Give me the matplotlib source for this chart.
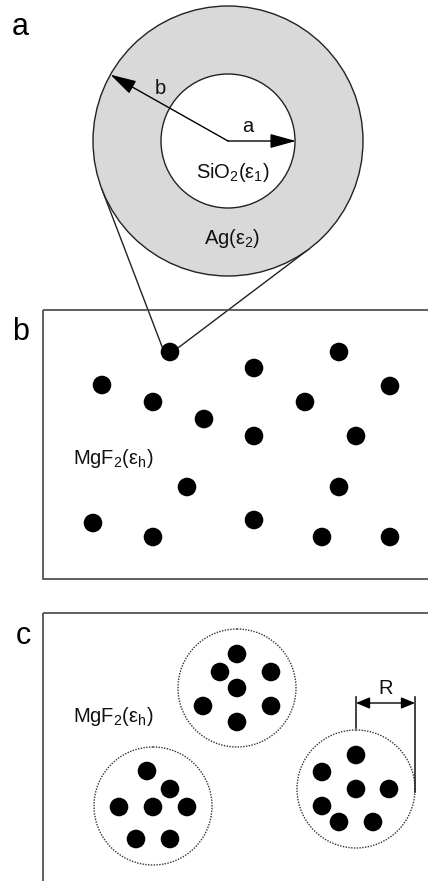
import numpy as np
import matplotlib.pyplot as plt
from matplotlib.patches import Circle, Rectangle

plt.rcParams['font.family'] = ['Liberation Sans', 'DejaVu Sans']
plt.rcParams['mathtext.fontset'] = 'custom'
plt.rcParams['mathtext.rm'] = 'Liberation Sans'
plt.rcParams['mathtext.it'] = 'Liberation Sans:italic'

# core-shell particle (pixel units)
shell_center = (228, 141)
core_radius = 67
shell_radius = 135

# random film: particle centres
film_x = [170, 339, 254, 102, 390, 153, 305, 204, 254, 356, 187, 339, 93, 254, 153, 322, 390]
film_y = [352, 352, 368, 385, 386, 402, 402, 419, 436, 436, 487, 487, 523, 520, 537, 537, 537]
dot_radius = 9.3

# clustered film: cluster outlines and member particles
cluster_x = [237, 153, 356]
cluster_y = [688, 806, 789]
cluster_radius = 59
member_x = [
    [237, 220, 271, 237, 203, 271, 237],
    [147, 170, 119, 153, 187, 136, 170],
    [356, 322, 356, 389, 322, 339, 373],
]
member_y = [
    [654, 672, 672, 688, 706, 706, 722],
    [771, 789, 807, 807, 807, 839, 839],
    [755, 772, 789, 789, 806, 822, 822],
]

fig = plt.figure(figsize=(4.28, 8.81), dpi=100)
ax = fig.add_axes([0, 0, 1, 1])
ax.set_xlim(0, 428)
ax.set_ylim(881, 0)
ax.set_aspect('equal')
ax.axis('off')

# --- panel a: shell and core
cx, cy = shell_center
ax.add_patch(Circle(shell_center, shell_radius, facecolor='#d9d9d9', edgecolor='#222222', lw=1.0, zorder=2))
ax.add_patch(Circle(shell_center, core_radius, facecolor='white', edgecolor='#222222', lw=1.0, zorder=3))

# tangent lines from the highlighted particle up to the shell
px, py = film_x[0] - 4, film_y[0] + 5
d = np.hypot(cx - px, cy - py)
base = np.arctan2(cy - py, cx - px)
alpha = np.arcsin(shell_radius / d)
tlen = np.sqrt(d ** 2 - shell_radius ** 2)
for sgn in (-1, 1):
    ang = base + sgn * alpha
    ax.plot([px, px + tlen * np.cos(ang)], [py, py + tlen * np.sin(ang)],
            color='#222222', lw=1.0, zorder=1)

arrow_kw = dict(arrowstyle='-|>,head_length=0.8,head_width=0.22', color='black',
                lw=1.0, shrinkA=0, shrinkB=0, mutation_scale=20)
ax.annotate('', xy=(cx + core_radius + 1, cy), xytext=(cx, cy), arrowprops=arrow_kw, zorder=4)
bang = np.arctan2(75 - cy, 111 - cx)
ax.annotate('', xy=(cx + shell_radius * np.cos(bang), cy + shell_radius * np.sin(bang)),
            xytext=(cx, cy), arrowprops=arrow_kw, zorder=4)

ax.text(248, 127, 'a', fontsize=14.5, ha='center', va='center', color='#111111', zorder=5)
ax.text(160, 88, 'b', fontsize=14.5, ha='center', va='center', color='#111111', zorder=5)
ax.text(233, 172, r'SiO$_\mathrm{2}$(ε$_\mathrm{1}$)', fontsize=14.5, ha='center', va='center',
        color='#111111', zorder=5)
ax.text(232, 239, r'Ag(ε$_\mathrm{2}$)', fontsize=14.5, ha='center', va='center',
        color='#111111', zorder=5)

# --- panel b: random film
ax.add_patch(Rectangle((43, 310), 420, 269, facecolor='none', edgecolor='#444444', lw=1.2, zorder=1))
for x, y in zip(film_x, film_y):
    ax.add_patch(Circle((x, y), dot_radius, facecolor='black', edgecolor='none', zorder=4))
ax.text(73, 458, r'MgF$_\mathrm{2}$(ε$_\mathrm{h}$)', fontsize=14.5, ha='left', va='center',
        color='#111111')

# --- panel c: clustered film
ax.add_patch(Rectangle((43, 613), 420, 300, facecolor='none', edgecolor='#444444', lw=1.2, zorder=1))
for i in range(len(cluster_x)):
    ax.add_patch(Circle((cluster_x[i], cluster_y[i]), cluster_radius, facecolor='none',
                        edgecolor='#333333', lw=1.0, linestyle=(0, (1, 1)), zorder=2))
    for x, y in zip(member_x[i], member_y[i]):
        ax.add_patch(Circle((x, y), dot_radius, facecolor='black', edgecolor='none', zorder=4))
ax.text(73, 717, r'MgF$_\mathrm{2}$(ε$_\mathrm{h}$)', fontsize=14.5, ha='left', va='center',
        color='#111111')

# cluster radius marker
rx0 = cluster_x[2]
rx1 = cluster_x[2] + cluster_radius
ax.plot([rx0, rx0], [697, 728], color='#222222', lw=1.2)
ax.plot([rx1, rx1], [697, cluster_y[2] + 3], color='#222222', lw=1.2)
ax.annotate('', xy=(rx1, 703), xytext=(rx0, 703),
            arrowprops=dict(arrowstyle='<|-|>,head_length=0.6,head_width=0.25', color='black',
                            lw=1.0, shrinkA=0, shrinkB=0, mutation_scale=14))
ax.text((rx0 + rx1) / 2, 688, 'R', fontsize=14.5, ha='center', va='center', color='#111111')

# panel letters
ax.text(20, 27, 'a', fontsize=22, ha='center', va='center')
ax.text(21, 332, 'b', fontsize=22, ha='center', va='center')
ax.text(23, 636, 'c', fontsize=22, ha='center', va='center')

fig.savefig('out.png', dpi=100)
